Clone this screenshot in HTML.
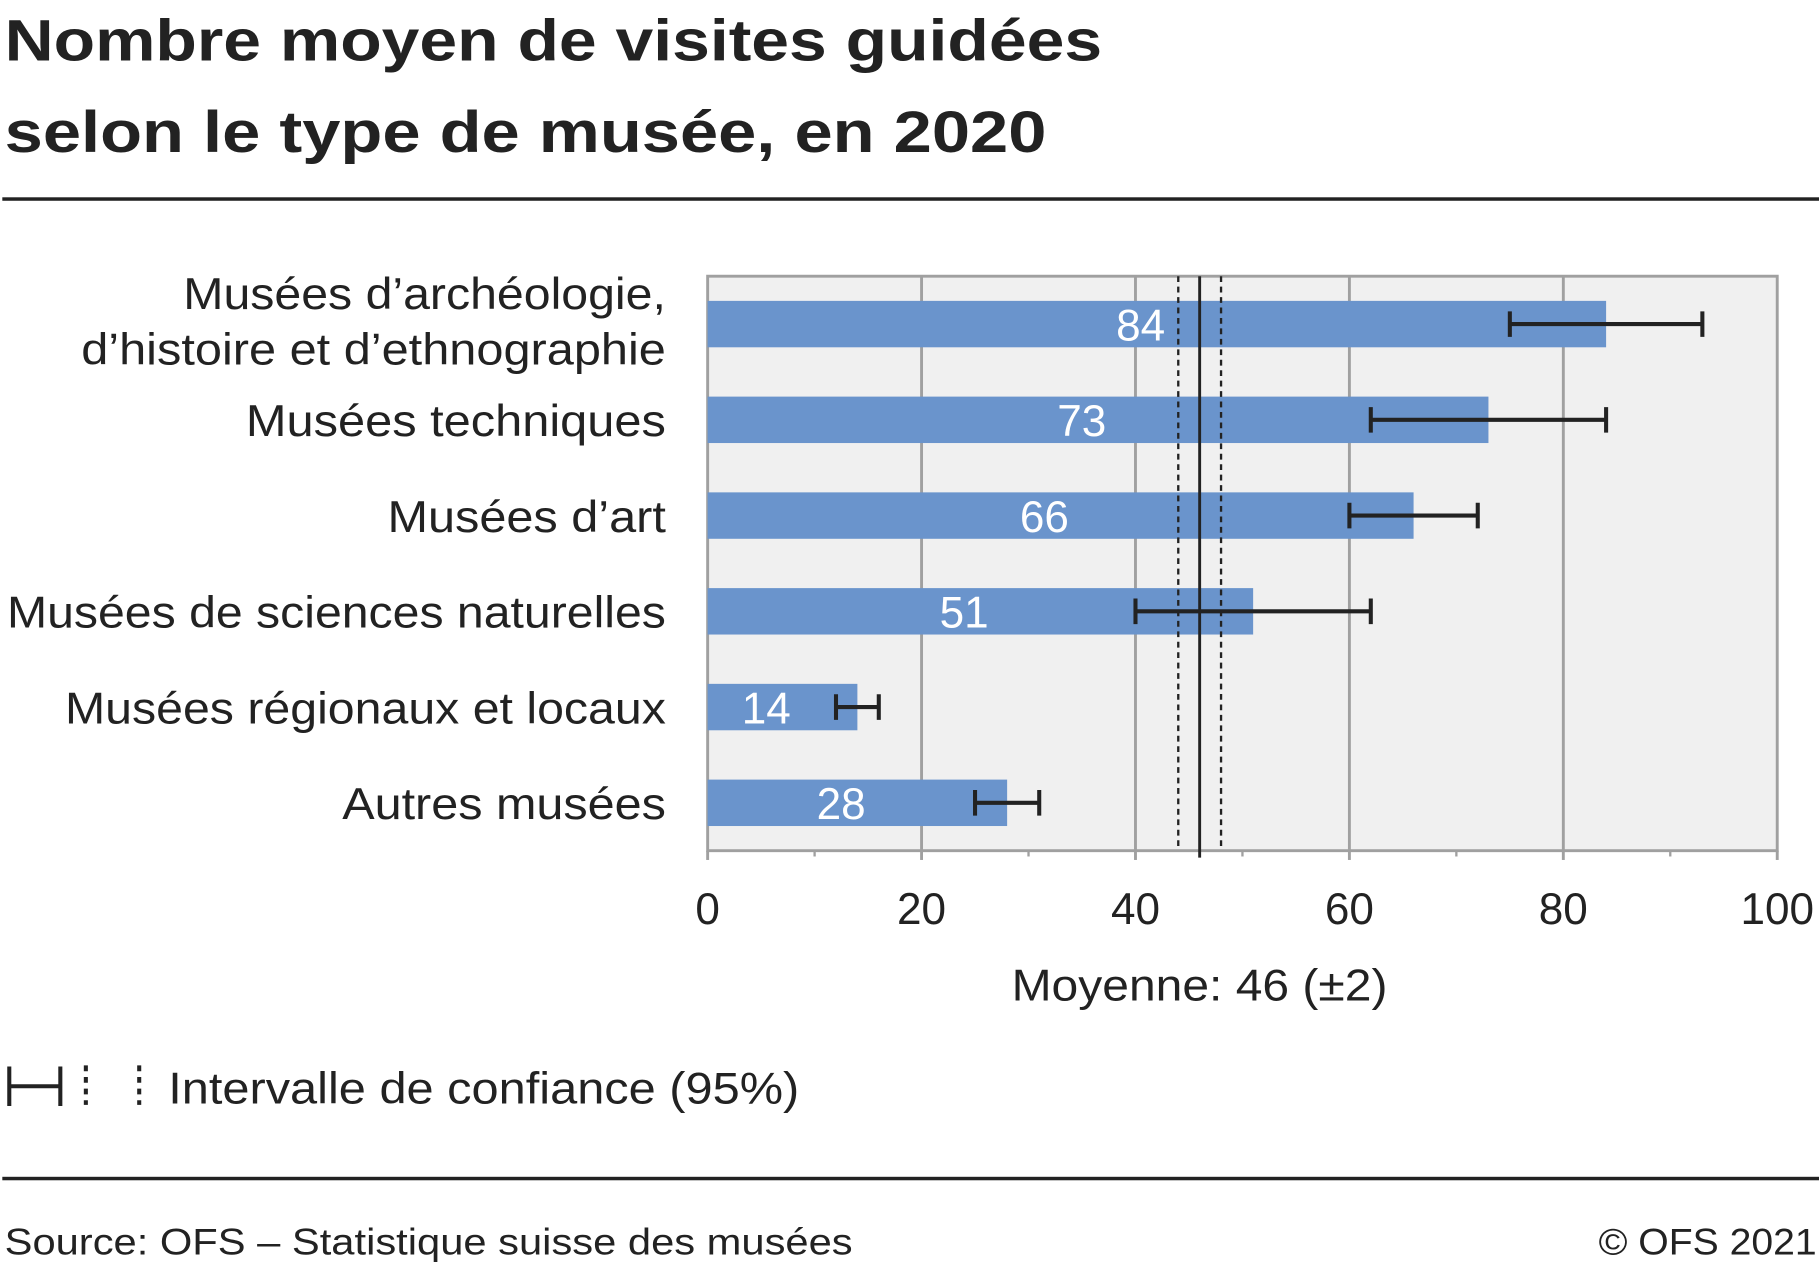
<!DOCTYPE html>
<html><head><meta charset="utf-8"><style>
html,body{margin:0;padding:0;background:#fff;}
svg{display:block;}
text{font-family:"Liberation Sans",sans-serif;}
</style></head><body>
<svg id="chart" width="1819" height="1265" viewBox="0 0 1568 1090" preserveAspectRatio="none" xmlns="http://www.w3.org/2000/svg">
<text x="4" y="52" font-size="50" font-weight="bold" fill="#222" textLength="946" lengthAdjust="spacingAndGlyphs">Nombre moyen de visites guidées</text>
<text x="4" y="131" font-size="50" font-weight="bold" fill="#222" textLength="898" lengthAdjust="spacingAndGlyphs">selon le type de musée, en 2020</text>
<rect x="2" y="170" width="1566" height="3" fill="#222"/>
<rect x="610" y="238" width="922" height="495" fill="#f0f0f0" stroke="#a0a0a0" stroke-width="2.5"/>
<g id="grid"></g>
<g id="bars"></g>
<g id="means"></g>
<g id="axis"></g>
<text x="1034" y="862" font-size="38" fill="#222" text-anchor="middle" textLength="324" lengthAdjust="spacingAndGlyphs">Moyenne: 46 (±2)</text>
<g>
<path d="M8 919V953M8 936H52M52 919V953" stroke="#222" stroke-width="3.5" fill="none"/>
<line x1="74" y1="918" x2="74" y2="952" stroke="#222" stroke-width="3.5" stroke-dasharray="5,5"/>
<line x1="120" y1="918" x2="120" y2="952" stroke="#222" stroke-width="3.5" stroke-dasharray="5,5"/>
<text x="145" y="951" font-size="38" fill="#222" textLength="544" lengthAdjust="spacingAndGlyphs">Intervalle de confiance (95%)</text>
</g>
<rect x="2" y="1014" width="1566" height="3" fill="#222"/>
<text x="4" y="1081" font-size="32" fill="#222" textLength="731" lengthAdjust="spacingAndGlyphs">Source: OFS – Statistique suisse des musées</text>
<text x="1566" y="1081" font-size="32" fill="#222" text-anchor="end" textLength="188" lengthAdjust="spacingAndGlyphs">© OFS 2021</text>
</svg>
<script>
const categories = [["Musées d’archéologie,","d’histoire et d’ethnographie"],["Musées techniques"],["Musées d’art"],["Musées de sciences naturelles"],["Musées régionaux et locaux"],["Autres musées"]];
const values = [84, 73, 66, 51, 14, 28];
const ciLow = [75, 62, 60, 40, 12, 25];
const ciHigh = [93, 84, 72, 62, 16, 31];
const meanValue = 46;
const meanLow = 44;
const meanHigh = 48;
const xTicks = [0, 20, 40, 60, 80, 100];
const labelWidths = [[416,504],[362],[240],[568],[518],[279]];

const NS = "http://www.w3.org/2000/svg";
const X0 = 610, X1 = 1532, Y0 = 238, Y1 = 733;
const x = v => X0 + (v - 0) / 100 * (X1 - X0);
const band = (Y1 - Y0) / categories.length;
const yc = i => Y0 + band * (i + 0.5);
const barH = 40;
function mk(tag, attrs, parent){const e=document.createElementNS(NS,tag);for(const k in attrs)e.setAttribute(k,attrs[k]);parent.appendChild(e);return e;}
const grid=document.getElementById('grid'),bars=document.getElementById('bars'),means=document.getElementById('means'),axis=document.getElementById('axis');

xTicks.forEach(t=>{
  if(t>0&&t<100){const g=mk('line',{x1:x(t),x2:x(t),y1:Y0,y2:Y1,stroke:'#a0a0a0','stroke-width':2.5},grid);
  
  }
  const tk=mk('line',{x1:x(t),x2:x(t),y1:Y1,y2:Y1+8,stroke:'#a0a0a0','stroke-width':2.5},axis);
  
  
  const lb=mk('text',{x:x(t),y:796,'font-size':38,fill:'#222','text-anchor':'middle'},axis);
  lb.textContent=t;
  
  
});
for(let t=10;t<100;t+=20){const m=mk('line',{x1:x(t),x2:x(t),y1:Y1,y2:Y1+5,stroke:'#a0a0a0','stroke-width':2},axis);
  
  }

categories.forEach((c,i)=>{
  const cy=yc(i);
  const r=mk('rect',{x:X0,y:cy-barH/2,width:x(values[i])-X0,height:barH,fill:'#6a94cc'},bars);
  
  
  const v=mk('text',{x:(X0+x(values[i]))/2-14,y:cy+14,'font-size':38,fill:'#fff','text-anchor':'middle'},bars);
  v.textContent=values[i];
  
  
  c.forEach((line,j)=>{
    const ly=cy+14+(c.length===2?(j===0?-27:21):0);
    const t=mk('text',{x:574,y:ly,'font-size':38,fill:'#222','text-anchor':'end',textLength:labelWidths[i][j],lengthAdjust:'spacingAndGlyphs'},bars);
    t.textContent=line;
    
    
  });
  const eb=mk('path',{d:`M${x(ciLow[i])} ${cy-11}V${cy+11}M${x(ciLow[i])} ${cy}H${x(ciHigh[i])}M${x(ciHigh[i])} ${cy-11}V${cy+11}`,stroke:'#222','stroke-width':3.5,fill:'none'},bars);
  
  
});
const ml=mk('line',{x1:x(meanValue),x2:x(meanValue),y1:Y0,y2:Y1+6,stroke:'#222','stroke-width':2.5},means);


[meanLow,meanHigh].forEach((m,k)=>{
  const d=mk('line',{x1:x(m),x2:x(m),y1:Y0,y2:Y1,stroke:'#222','stroke-width':2,'stroke-dasharray':'5,4'},means);
  
  
});
</script>
</body></html>
